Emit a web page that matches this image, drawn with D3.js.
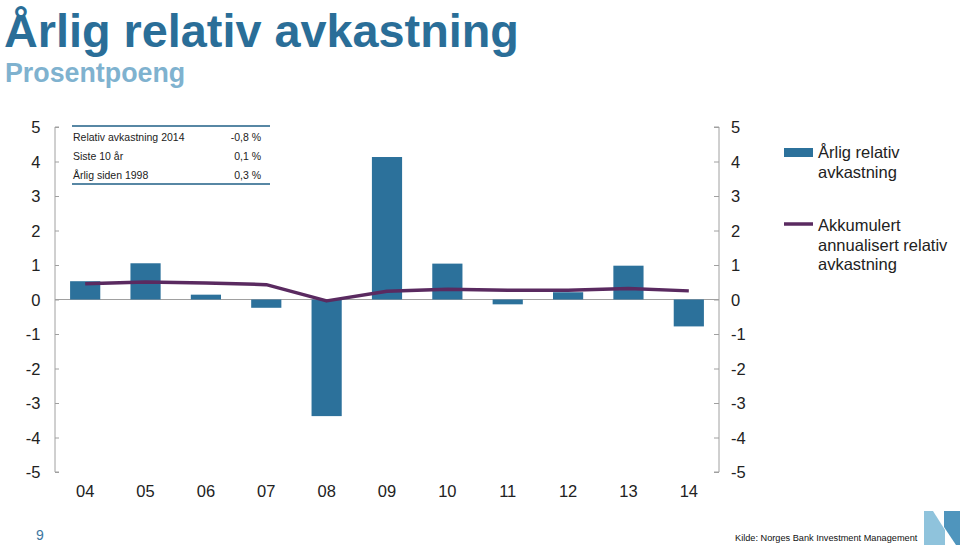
<!DOCTYPE html>
<html><head><meta charset="utf-8">
<script src="https://cdn.jsdelivr.net/npm/d3@7"></script>
<style>
body{margin:0;background:#fff;}
svg{display:block;font-family:"Liberation Sans",Arial,sans-serif;}
</style></head>
<body>
<svg id="c" width="960" height="545"></svg>
<script>
const years = ["04","05","06","07","08","09","10","11","12","13","14"];
const annualRelative = [0.53,1.05,0.14,-0.24,-3.38,4.13,1.04,-0.14,0.21,0.98,-0.78];
const accumulated = [0.46,0.51,0.48,0.43,-0.04,0.24,0.30,0.27,0.27,0.32,0.25];
const yTicks = [5,4,3,2,1,0,-1,-2,-3,-4,-5];
const tableLabels = ["Relativ avkastning 2014","Siste 10 år","Årlig siden 1998"];
const tableValues = ["-0,8 %","0,1 %","0,3 %"];
const legendBar = ["Årlig relativ","avkastning"];
const legendLine = ["Akkumulert","annualisert relativ","avkastning"];

const svg = d3.select("#c");
const L = 55, R = 719, T = 127, B = 472;
const barColor = "#2c719b", lineColor = "#5a2a60", axisColor = "#a0a0a0";

svg.append("text").attr("x",4).attr("y",47).attr("font-size",46.8).attr("font-weight","bold")
  .attr("fill","#2a6e98").text("Årlig relativ avkastning");
svg.append("text").attr("x",5).attr("y",82).attr("font-size",26.8).attr("font-weight","bold")
  .attr("fill","#7fb2cf").text("Prosentpoeng");

const x = d3.scaleBand().domain(years).range([L,R]).paddingInner(0.5).paddingOuter(0.25);
const y = d3.scaleLinear().domain([-5,5]).range([B,T]);

// zero line
svg.append("line").attr("x1",L).attr("x2",R).attr("y1",y(0)).attr("y2",y(0))
  .attr("stroke",axisColor).attr("stroke-width",1.2);

// bars
svg.append("g").selectAll("rect").data(annualRelative).join("rect")
  .attr("x",(d,i)=>x(years[i])).attr("width",x.bandwidth())
  .attr("y",d=>y(Math.max(0,d))).attr("height",d=>Math.abs(y(d)-y(0)))
  .attr("fill",barColor);

// line
const line = d3.line().x((d,i)=>x(years[i])+x.bandwidth()/2).y(d=>y(d));
svg.append("path").datum(accumulated).attr("d",line).attr("fill","none")
  .attr("stroke",lineColor).attr("stroke-width",3.5).attr("stroke-linejoin","round");

// left axis
const la = svg.append("g").attr("transform",`translate(${L},0)`)
  .call(d3.axisRight(y).tickValues(yTicks).tickSize(4).tickFormat(""));
la.select(".domain").attr("stroke",axisColor).attr("d",`M4,${T}H0V${B}H4`);
la.selectAll(".tick line").attr("stroke",axisColor);
svg.append("g").selectAll("text").data(yTicks).join("text")
  .attr("x",40.5).attr("y",d=>y(d)+6).attr("text-anchor","end").attr("font-size",16.5)
  .attr("fill","#222").text(d=>d);

// right axis
const ra = svg.append("g").attr("transform",`translate(${R},0)`)
  .call(d3.axisLeft(y).tickValues(yTicks).tickSize(5).tickFormat(""));
ra.select(".domain").attr("stroke",axisColor).attr("d",`M-5,${T}H0V${B}H-5`);
ra.selectAll(".tick line").attr("stroke",axisColor);
svg.append("g").selectAll("text").data(yTicks).join("text")
  .attr("x",731).attr("y",d=>y(d)+6).attr("text-anchor","start").attr("font-size",16.5)
  .attr("fill","#222").text(d=>d);

// x labels
svg.append("g").selectAll("text").data(years).join("text")
  .attr("x",d=>x(d)+x.bandwidth()/2).attr("y",497).attr("text-anchor","middle")
  .attr("font-size",16.5).attr("fill","#222").text(d=>d);

// table
svg.append("line").attr("x1",72).attr("x2",270).attr("y1",126).attr("y2",126).attr("stroke","#1f5f86").attr("stroke-width",1.5);
svg.append("line").attr("x1",72).attr("x2",270).attr("y1",184).attr("y2",184).attr("stroke","#1f5f86").attr("stroke-width",1.5);
tableLabels.forEach((t,i)=>{
  svg.append("text").attr("x",73).attr("y",141+i*19).attr("font-size",10.5).attr("fill","#222").text(t);
  svg.append("text").attr("x",261).attr("y",141+i*19).attr("font-size",10.5).attr("text-anchor","end").attr("fill","#222").text(tableValues[i]);
});

// legend
svg.append("rect").attr("x",784).attr("y",148).attr("width",29).attr("height",9).attr("fill",barColor);
legendBar.forEach((t,i)=>svg.append("text").attr("x",818).attr("y",158+i*19.5).attr("font-size",16.5).attr("fill","#222").text(t));
svg.append("line").attr("x1",784).attr("x2",813).attr("y1",224).attr("y2",224).attr("stroke",lineColor).attr("stroke-width",3.5);
legendLine.forEach((t,i)=>svg.append("text").attr("x",818).attr("y",231+i*19.5).attr("font-size",16.5).attr("fill","#222").text(t));

// footer
svg.append("text").attr("x",40).attr("y",540).attr("text-anchor","middle").attr("font-size",14).attr("fill","#3d76a0").text("9");
svg.append("text").attr("x",735).attr("y",541).attr("font-size",9.2).attr("fill","#111").text("Kilde: Norges Bank Investment Management");
svg.append("polygon").attr("points","924,511 933,511 945,530 945,545 924,545").attr("fill","#8fc3dc");
svg.append("polygon").attr("points","944,511 960,511 960,545 956,545 944,527").attr("fill","#4f95bd");
</script>
</body></html>
